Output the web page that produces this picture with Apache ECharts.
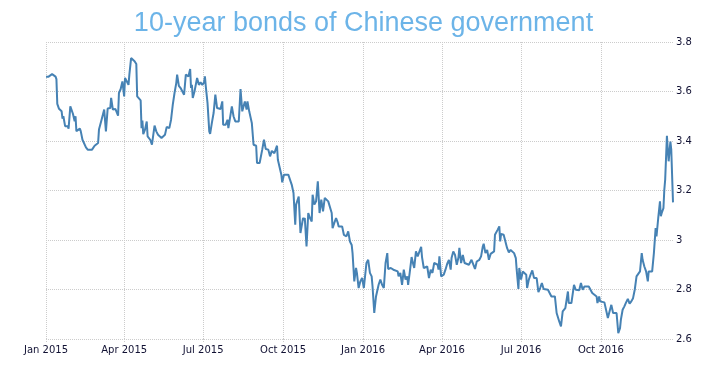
<!DOCTYPE html>
<html>
<head>
<meta charset="utf-8">
<script src="https://cdn.jsdelivr.net/npm/echarts@6/dist/echarts.min.js"></script>
<style>html,body{margin:0;padding:0;background:#fff}#chart{width:727px;height:368px}</style>
</head>
<body>
<div id="chart"></div>
<script>
const chartTitle = '10-year bonds of Chinese government';
const tickDates = ['2015-01-01','2015-04-01','2015-07-01','2015-10-01','2016-01-01','2016-04-01','2016-07-01','2016-10-01'];
const tickLabels = ['Jan 2015','Apr 2015','Jul 2015','Oct 2015','Jan 2016','Apr 2016','Jul 2016','Oct 2016'];
const xMin = '2015-01-01';
const xMax = '2016-12-23';
const yMin = 2.6, yMax = 3.8, yStep = 0.2;

const dates = [
'2015-01-01','2015-01-04','2015-01-08','2015-01-12','2015-01-13','2015-01-14','2015-01-16','2015-01-19','2015-01-20','2015-01-21',
'2015-01-23','2015-01-26','2015-01-27','2015-01-29','2015-02-01','2015-02-03','2015-02-04','2015-02-05','2015-02-09','2015-02-10',
'2015-02-12','2015-02-16','2015-02-18','2015-02-23','2015-02-26','2015-03-02','2015-03-03','2015-03-05','2015-03-06','2015-03-09',
'2015-03-11','2015-03-13','2015-03-16','2015-03-17','2015-03-18','2015-03-19','2015-03-22','2015-03-24','2015-03-25','2015-03-26',
'2015-03-28','2015-03-30','2015-04-01','2015-04-02','2015-04-04','2015-04-06','2015-04-07','2015-04-09','2015-04-11','2015-04-13',
'2015-04-15','2015-04-16','2015-04-18','2015-04-20','2015-04-21','2015-04-22','2015-04-23','2015-04-25','2015-04-27','2015-04-28',
'2015-04-30','2015-05-01','2015-05-03','2015-05-06','2015-05-08','2015-05-10','2015-05-12','2015-05-14','2015-05-16','2015-05-18',
'2015-05-20','2015-05-21','2015-05-23','2015-05-25','2015-05-27','2015-05-29','2015-05-31','2015-06-01','2015-06-03','2015-06-05',
'2015-06-07','2015-06-09','2015-06-11','2015-06-14','2015-06-16','2015-06-17','2015-06-18','2015-06-19','2015-06-21','2015-06-24',
'2015-06-26','2015-06-28','2015-06-30','2015-07-02','2015-07-03','2015-07-04','2015-07-06','2015-07-08','2015-07-09','2015-07-11',
'2015-07-13','2015-07-15','2015-07-17','2015-07-21','2015-07-23','2015-07-24','2015-07-27','2015-07-29','2015-07-30','2015-07-31',
'2015-08-03','2015-08-05','2015-08-07','2015-08-09','2015-08-11','2015-08-13','2015-08-15','2015-08-17','2015-08-18','2015-08-20',
'2015-08-21','2015-08-23','2015-08-26','2015-08-28','2015-08-31','2015-09-01','2015-09-04','2015-09-07','2015-09-09','2015-09-11',
'2015-09-14','2015-09-16','2015-09-18','2015-09-21','2015-09-23','2015-09-24','2015-09-25','2015-09-27','2015-09-29','2015-09-30',
'2015-10-02','2015-10-07','2015-10-09','2015-10-11','2015-10-13','2015-10-15','2015-10-16','2015-10-19','2015-10-21','2015-10-24',
'2015-10-25','2015-10-26','2015-10-28','2015-10-30','2015-11-01','2015-11-03','2015-11-04','2015-11-06','2015-11-08','2015-11-10',
'2015-11-12','2015-11-14','2015-11-16','2015-11-18','2015-11-20','2015-11-22','2015-11-24','2015-11-26','2015-11-27','2015-11-29',
'2015-12-01','2015-12-03','2015-12-04','2015-12-06','2015-12-08','2015-12-10','2015-12-13','2015-12-15','2015-12-17','2015-12-19',
'2015-12-20','2015-12-22','2015-12-24','2015-12-25','2015-12-27','2015-12-29','2015-12-31','2016-01-02','2016-01-05','2016-01-07',
'2016-01-09','2016-01-11','2016-01-12','2016-01-14','2016-01-16','2016-01-18','2016-01-19','2016-01-21','2016-01-23','2016-01-25',
'2016-01-27','2016-01-29','2016-01-30','2016-02-02','2016-02-03','2016-02-05','2016-02-07','2016-02-10','2016-02-11','2016-02-13',
'2016-02-15','2016-02-17','2016-02-19','2016-02-21','2016-02-22','2016-02-24','2016-02-26','2016-02-28','2016-02-29','2016-03-02',
'2016-03-04','2016-03-06','2016-03-08','2016-03-09','2016-03-11','2016-03-13','2016-03-15','2016-03-17','2016-03-19','2016-03-21',
'2016-03-23','2016-03-25','2016-03-27','2016-03-28','2016-03-29','2016-03-31','2016-04-01','2016-04-03','2016-04-05','2016-04-07',
'2016-04-09','2016-04-11','2016-04-12','2016-04-14','2016-04-16','2016-04-18','2016-04-20','2016-04-21','2016-04-23','2016-04-25',
'2016-04-27','2016-04-29','2016-05-02','2016-05-04','2016-05-05','2016-05-07','2016-05-09','2016-05-11','2016-05-12','2016-05-14',
'2016-05-16','2016-05-18','2016-05-19','2016-05-21','2016-05-23','2016-05-25','2016-05-27','2016-05-29','2016-05-31','2016-06-01',
'2016-06-03','2016-06-04','2016-06-06','2016-06-07','2016-06-08','2016-06-11','2016-06-13','2016-06-15','2016-06-17','2016-06-19',
'2016-06-21','2016-06-23','2016-06-25','2016-06-26','2016-06-28','2016-06-29','2016-07-01','2016-07-03','2016-07-05','2016-07-07',
'2016-07-08','2016-07-10','2016-07-12','2016-07-14','2016-07-16','2016-07-18','2016-07-19','2016-07-21','2016-07-23','2016-07-25',
'2016-07-27','2016-07-29','2016-08-01','2016-08-03','2016-08-05','2016-08-07','2016-08-09','2016-08-11','2016-08-13','2016-08-14',
'2016-08-16','2016-08-18','2016-08-19','2016-08-21','2016-08-24','2016-08-25','2016-08-28','2016-08-31','2016-09-02','2016-09-04',
'2016-09-06','2016-09-08','2016-09-10','2016-09-12','2016-09-14','2016-09-17','2016-09-19','2016-09-21','2016-09-23','2016-09-26',
'2016-09-27','2016-09-29','2016-09-30','2016-10-02','2016-10-05','2016-10-07','2016-10-09','2016-10-11','2016-10-13','2016-10-15',
'2016-10-17','2016-10-19','2016-10-21','2016-10-23','2016-10-24','2016-10-26','2016-10-28','2016-10-30','2016-11-01','2016-11-03',
'2016-11-05','2016-11-07','2016-11-09','2016-11-11','2016-11-13','2016-11-15','2016-11-17','2016-11-18','2016-11-20','2016-11-22',
'2016-11-24','2016-11-25','2016-11-27','2016-11-29','2016-12-01','2016-12-03','2016-12-04','2016-12-06','2016-12-08','2016-12-09',
'2016-12-10','2016-12-12','2016-12-13','2016-12-14','2016-12-16','2016-12-17','2016-12-18','2016-12-20','2016-12-21','2016-12-23'
];
const yields = [
3.66,3.66,3.67,3.66,3.65,3.55,3.53,3.52,3.49,3.50,
3.46,3.46,3.45,3.54,3.51,3.48,3.50,3.44,3.45,3.44,
3.405,3.374,3.365,3.365,3.381,3.392,3.446,3.452,3.486,3.527,
3.439,3.531,3.533,3.574,3.58,3.527,3.529,3.533,3.502,3.594,
3.61,3.641,3.58,3.655,3.659,3.627,3.668,3.735,3.735,3.722,
3.711,3.58,3.578,3.564,3.452,3.483,3.428,3.446,3.479,3.419,
3.425,3.405,3.385,3.462,3.439,3.425,3.432,3.412,3.413,3.425,
3.457,3.452,3.452,3.486,3.547,3.594,3.634,3.668,3.623,3.614,
3.61,3.587,3.668,3.661,3.691,3.614,3.627,3.574,3.60,3.655,
3.627,3.637,3.627,3.637,3.661,3.621,3.553,3.439,3.429,3.473,
3.513,3.587,3.533,3.529,3.56,3.466,3.466,3.486,3.452,3.473,
3.54,3.499,3.479,3.479,3.479,3.61,3.52,3.52,3.56,3.527,
3.56,3.52,3.473,3.385,3.381,3.311,3.311,3.365,3.405,3.368,
3.365,3.338,3.36,3.351,3.357,3.381,3.324,3.33,3.264,3.233,
3.264,3.264,3.257,3.223,3.19,3.062,3.143,3.176,3.028,3.089,
3.08,3.089,2.974,3.109,3.089,3.075,3.183,3.143,3.156,3.237,
3.109,3.163,3.116,3.17,3.176,3.156,3.16,3.109,3.048,3.069,
3.089,3.069,3.055,3.048,3.055,3.021,3.015,3.035,2.994,2.98,
2.947,2.833,2.887,2.867,2.806,2.833,2.847,2.806,2.907,2.92,
2.867,2.853,2.813,2.705,2.772,2.765,2.819,2.84,2.819,2.806,
2.907,2.947,2.883,2.887,2.88,2.88,2.877,2.873,2.853,2.867,
2.819,2.88,2.84,2.853,2.819,2.873,2.931,2.90,2.887,2.954,
2.934,2.94,2.972,2.931,2.887,2.88,2.893,2.846,2.88,2.867,
2.907,2.913,2.90,2.88,2.934,2.853,2.846,2.86,2.88,2.904,
2.92,2.88,2.927,2.954,2.94,2.90,2.93,2.968,2.907,2.94,
2.907,2.90,2.90,2.893,2.92,2.917,2.883,2.913,2.907,2.92,
2.934,2.974,2.985,2.947,2.96,2.92,2.944,2.947,2.954,3.021,
3.028,3.041,3.055,2.994,3.024,3.021,3.017,2.967,2.95,2.96,
2.957,2.947,2.927,2.88,2.802,2.887,2.84,2.873,2.87,2.86,
2.806,2.84,2.86,2.877,2.846,2.85,2.846,2.789,2.806,2.826,
2.802,2.806,2.799,2.799,2.772,2.765,2.772,2.705,2.698,2.671,
2.651,2.712,2.708,2.725,2.792,2.745,2.745,2.819,2.799,2.80,
2.797,2.826,2.799,2.812,2.806,2.812,2.806,2.786,2.78,2.772,
2.745,2.772,2.752,2.752,2.748,2.745,2.685,2.712,2.738,2.705,
2.712,2.705,2.624,2.644,2.678,2.718,2.732,2.748,2.762,2.743,
2.752,2.765,2.80,2.853,2.853,2.873,2.947,2.92,2.893,2.873,
2.833,2.873,2.867,2.873,2.947,3.048,3.015,3.089,3.156,3.096,
3.109,3.129,3.203,3.244,3.421,3.365,3.318,3.398,3.365,3.152
];

const parseLocal = s => { const p = s.split('-').map(Number); return new Date(p[0], p[1] - 1, p[2]).getTime(); };
const seriesData = dates.map((d, i) => [parseLocal(d), yields[i]]);
const tickValues = tickDates.map(parseLocal);

const chart = echarts.init(document.getElementById('chart'), null, { renderer: 'canvas' });
chart.setOption({
  animation: false,
  backgroundColor: '#ffffff',
  title: {
    text: chartTitle,
    left: 'center',
    top: 5,
    textStyle: { fontFamily: 'Liberation Sans', fontSize: 27, fontWeight: 'normal', color: '#6cb4e8' }
  },
  grid: { left: 46, right: 54, top: 42, bottom: 29, containLabel: false },
  xAxis: {
    type: 'value',
    min: parseLocal(xMin),
    max: parseLocal(xMax),
    axisLine: { show: false },
    axisTick: { show: true, customValues: tickValues, length: 3, lineStyle: { color: '#cccccc', type: 'dotted' } },
    axisLabel: {
      customValues: tickValues,
      showMinLabel: true,
      margin: 6,
      fontFamily: 'DejaVu Sans', fontSize: 10, color: '#111133',
      formatter: function (v) {
        const idx = tickValues.indexOf(v);
        return idx >= 0 ? tickLabels[idx] : '';
      }
    },
    splitLine: { show: true, lineStyle: { color: '#cccccc', type: 'dotted', width: 1 } }
  },
  yAxis: {
    type: 'value',
    position: 'right',
    min: yMin, max: yMax, interval: yStep,
    axisLine: { show: false },
    axisTick: { show: false },
    axisLabel: { margin: 3, fontFamily: 'DejaVu Sans', fontSize: 10, color: '#111133' },
    splitLine: { show: true, lineStyle: { color: '#cccccc', type: 'dotted', width: 1 } }
  },
  series: [{
    type: 'line',
    data: seriesData,
    showSymbol: false,
    symbol: 'none',
    lineStyle: { color: '#4682b4', width: 2 },
    itemStyle: { color: '#4682b4' }
  }]
});
</script>
</body>
</html>
